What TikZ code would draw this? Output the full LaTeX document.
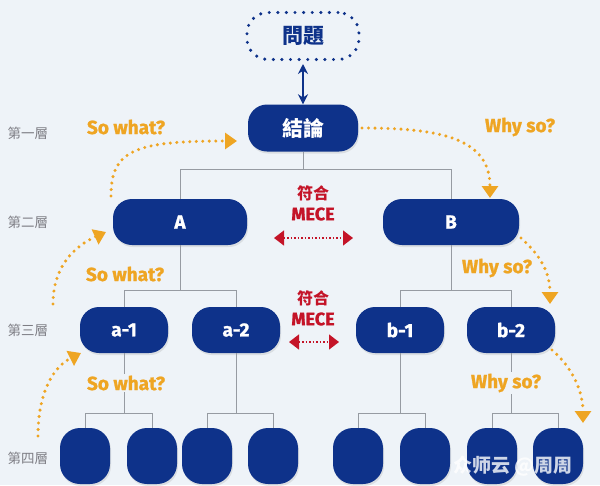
\documentclass[tikz,border=0pt]{standalone}
\usepackage{fontspec}
\setmainfont{Fira Sans}[BoldFeatures={FakeBold=1.1}]
\newfontfamily\cjk{Noto Sans CJK TC}
\newfontfamily\cjksc{Noto Sans CJK SC}
\usetikzlibrary{arrows.meta,shadows}
\definecolor{bgc}{RGB}{238,243,248}
\definecolor{navy}{RGB}{14,50,138}
\definecolor{orng}{RGB}{238,165,35}
\definecolor{redc}{RGB}{196,20,40}
\definecolor{linec}{RGB}{150,155,162}
\definecolor{layc}{RGB}{125,125,132}
\tikzset{
  box/.style={fill=navy, rounded corners=19pt, text=white, inner sep=0pt,
    minimum height=46pt, font=\bfseries\fontsize{19}{19}\selectfont,
    drop shadow={shadow xshift=1pt, shadow yshift=-2pt, opacity=0.18}},
  leaf/.style={fill=navy, rounded corners=20pt, inner sep=0pt,
    minimum width=50pt, minimum height=56pt,
    drop shadow={shadow xshift=1pt, shadow yshift=-2pt, opacity=0.18}},
  tree/.style={draw=linec, line width=0.9pt},
  sowhat/.style={text=orng, font=\bfseries\fontsize{19}{19}\selectfont, fill=bgc, inner sep=2pt},
  flow/.style={draw=orng, line width=3.4pt, line cap=round, dash pattern=on 0pt off 6.5pt,
    -{Triangle[length=12pt,width=16pt]}},
  mece/.style={draw=redc, line width=1.3pt, dash pattern=on 1.5pt off 2pt,
    {Triangle[length=10pt,width=15pt]}-{Triangle[length=10pt,width=15pt]}},
  layer/.style={text=layc, font=\cjk\fontsize{13.5}{13.5}\selectfont},
  meceT/.style={text=redc, font=\bfseries\fontsize{18}{18}\selectfont},
  fuhe/.style={text=redc, font=\cjk\bfseries\fontsize{16}{16}\selectfont},
}
\begin{document}
\begin{tikzpicture}[x=1pt,y=-1pt]
\useasboundingbox[fill=bgc] (0,0) rectangle (600,485);

% top question node
\node[draw=navy, line width=3.4pt, line cap=round, dash pattern=on 0pt off 8.6pt,
  rounded corners=21pt, minimum width=112pt, minimum height=47pt, inner sep=0pt,
  text=navy, font=\cjk\bfseries\fontsize{21}{21}\selectfont] (Q) at (303,36) {問題};
\node[box, minimum width=110pt, minimum height=47pt, font=\cjk\bfseries\fontsize{21}{21}\selectfont] (C) at (303,128) {結論};
\coordinate (qs) at (303,64);
\draw[navy, line width=2.2pt, {Stealth[length=10pt,width=10pt]}-{Stealth[length=10pt,width=10pt]}] (qs) -- (C.north);

% level 2
\node[box, minimum width=134pt] (A) at (180,222) {A};
\node[box, minimum width=136pt] (B) at (451,222) {B};
% level 3
\node[box, minimum width=88pt] (a1) at (124,330) {a-1};
\node[box, minimum width=88pt] (a2) at (236,330) {a-2};
\node[box, minimum width=88pt] (b1) at (400,330) {b-1};
\node[box, minimum width=88pt] (b2) at (511,330) {b-2};
% level 4
\node[leaf] (l1) at (85,456) {};
\node[leaf] (l2) at (152,456) {};
\node[leaf] (l3) at (207,456) {};
\node[leaf] (l4) at (273,456) {};
\node[leaf] (l5) at (358,456) {};
\node[leaf] (l6) at (425,456) {};
\node[leaf] (l7) at (492,456) {};
\node[leaf] (l8) at (558,456) {};

% tree connectors
\draw[tree] (C.south) -- ++(0,18) -| (A.north);
\draw[tree] (C.south) ++(0,18) -| (B.north);
\draw[tree] (A.south) -- ++(0,45) -| (a1.north);
\draw[tree] (A.south) ++(0,45) -| (a2.north);
\draw[tree] (B.south) -- ++(0,45) -| (b1.north);
\draw[tree] (B.south) ++(0,45) -| (b2.north);
\draw[tree] (a1.south) -- ++(0,60) -| (l1.north);
\draw[tree] (a1.south) ++(0,60) -| (l2.north);
\draw[tree] (a2.south) -- ++(0,60) -| (l3.north);
\draw[tree] (a2.south) ++(0,60) -| (l4.north);
\draw[tree] (b1.south) -- ++(0,60) -| (l5.north);
\draw[tree] (b1.south) ++(0,60) -| (l6.north);
\draw[tree] (b2.south) -- ++(0,60) -| (l7.north);
\draw[tree] (b2.south) ++(0,60) -| (l8.north);

% labels
\node[sowhat] (sw1) at (126,127) {So what?};
\node[sowhat] (sw2) at (125,274) {So what?};
\node[sowhat] (sw3) at (126,383) {So what?};
\node[sowhat] (ws1) at (520,127) {Why so?};
\node[sowhat] (ws2) at (497,268) {Why so?};
\node[sowhat] (ws3) at (506,383) {Why so?};

% layer labels
\node[layer] (L1) at (28,133) {第一層};
\node[layer] (L2) at (28,222) {第二層};
\node[layer] (L3) at (28,330) {第三層};
\node[layer] (L4) at (28,458) {第四層};

% MECE
\node[fuhe] (f1) at (313,193) {符合};
\node[meceT] (m1) at (313,214) {MECE};
\coordinate (r1a) at (274,238);
\coordinate (r1b) at (353,238);
\draw[mece] (r1a) -- (r1b);
\node[fuhe] (f2) at (313,298) {符合};
\node[meceT] (m2) at (313,319) {MECE};
\coordinate (r2a) at (289,342);
\coordinate (r2b) at (339,342);
\draw[mece] (r2a) -- (r2b);

% orange flows
\coordinate (o1s) at (111,196);
\coordinate (o1e) at (237,141);
\draw[flow] (o1s) .. controls (111,150) and (135,141) .. (o1e);
\coordinate (o2s) at (53,304);
\coordinate (o2e) at (106,232);
\draw[flow] (o2s) .. controls (53,266) and (75,246) .. (o2e);
\coordinate (o3s) at (38,436);
\coordinate (o3e) at (81,353);
\draw[flow] (o3s) .. controls (38,390) and (55,366) .. (o3e);
\coordinate (o4s) at (362,128);
\coordinate (o4e) at (490,198);
\draw[flow] (o4s) .. controls (445,128) and (490,140) .. (o4e);
\coordinate (o5s) at (521,238);
\coordinate (o5e) at (550,304);
\draw[flow] (o5s) .. controls (540,255) and (550,272) .. (o5e);
\coordinate (o6s) at (552,350);
\coordinate (o6e) at (583,423);
\draw[flow] (o6s) .. controls (573,368) and (583,392) .. (o6e);

% watermark
\node[text=white, opacity=0.8, font=\cjksc\bfseries\fontsize{19}{19}\selectfont] (wm) at (513,466) {众师云 @周周};
\end{tikzpicture}
\end{document}
